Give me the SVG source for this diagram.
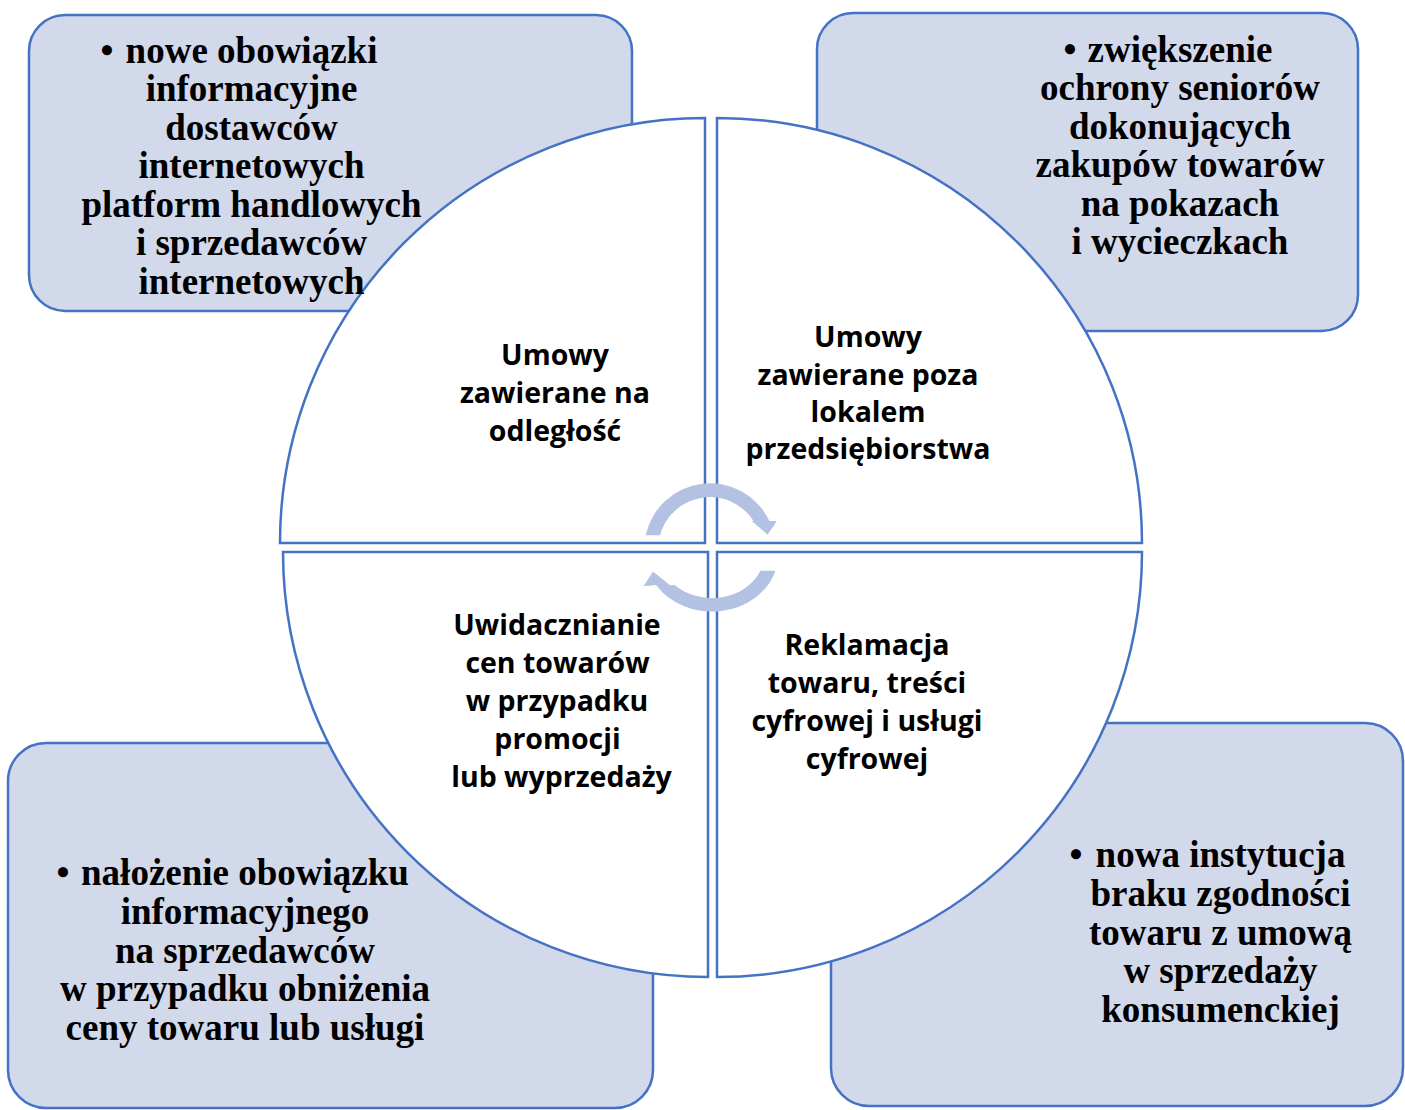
<svg xmlns="http://www.w3.org/2000/svg" width="1405" height="1110" viewBox="0 0 1405 1110">
  <style>
    .box { fill: #d2d9eb; stroke: #4472c4; stroke-width: 2.5; }
    .quad { fill: #ffffff; stroke: #4472c4; stroke-width: 2.5; }
    .serif { font-family: "Liberation Serif", "Times New Roman", serif; font-weight: bold; font-size: 37px; fill: #000; text-anchor: middle; }
    .sans { font-family: "Open Sans", "Noto Sans", sans-serif; font-weight: bold; font-size: 28.5px; fill: #000; text-anchor: middle; }
    .arrow { fill: #b3c1e3; stroke: none; }
  </style>
  <rect width="1405" height="1110" fill="#ffffff"/>

  <g id="box-top-left">
    <rect class="box" x="29" y="15" width="603" height="296" rx="36" ry="36"/>
  </g>
  <g id="box-top-right">
    <rect class="box" x="817" y="13" width="541" height="318" rx="36" ry="36"/>
  </g>
  <g id="box-bottom-left">
    <rect class="box" x="8" y="743" width="645" height="365" rx="38" ry="38"/>
  </g>
  <g id="box-bottom-right">
    <rect class="box" x="831" y="723" width="572" height="383" rx="38" ry="38"/>
  </g>

  <g id="quad-top-left">
    <path class="quad" d="M705,543 H280 A425,425 0 0 1 705,118 Z"/>
  </g>
  <g id="quad-top-right">
    <path class="quad" d="M717,543 V118 A425,425 0 0 1 1142,543 Z"/>
  </g>
  <g id="quad-bottom-left">
    <path class="quad" d="M708,552 V977 A425,425 0 0 1 283,552 Z"/>
  </g>
  <g id="quad-bottom-right">
    <path class="quad" d="M717,552 H1142 A425,425 0 0 1 717,977 Z"/>
  </g>

  <g id="box-top-left-text" class="serif">
    <text x="107" y="62.5">•</text>
    <text x="251.5" y="62.5">nowe obowiązki</text>
    <text x="251.5" y="101">informacyjne</text>
    <text x="251.5" y="139.5">dostawców</text>
    <text x="251.5" y="178">internetowych</text>
    <text x="251.5" y="216.5">platform handlowych</text>
    <text x="251.5" y="255">i sprzedawców</text>
    <text x="251.5" y="293.5">internetowych</text>
  </g>
  <g id="box-top-right-text" class="serif">
    <text x="1070" y="61.5">•</text>
    <text x="1180" y="61.5">zwiększenie</text>
    <text x="1180" y="100">ochrony seniorów</text>
    <text x="1180" y="138.5">dokonujących</text>
    <text x="1180" y="177">zakupów towarów</text>
    <text x="1180" y="215.5">na pokazach</text>
    <text x="1180" y="254">i wycieczkach</text>
  </g>
  <g id="box-bottom-left-text" class="serif">
    <text x="63" y="885">•</text>
    <text x="245" y="885">nałożenie obowiązku</text>
    <text x="245" y="923.75">informacyjnego</text>
    <text x="245" y="962.5">na sprzedawców</text>
    <text x="245" y="1001.25">w przypadku obniżenia</text>
    <text x="245" y="1040">ceny towaru lub usługi</text>
  </g>
  <g id="box-bottom-right-text" class="serif">
    <text x="1076" y="867">•</text>
    <text x="1220.5" y="867">nowa instytucja</text>
    <text x="1220.5" y="905.75">braku zgodności</text>
    <text x="1220.5" y="944.5">towaru z umową</text>
    <text x="1220.5" y="983.25">w sprzedaży</text>
    <text x="1220.5" y="1022">konsumenckiej</text>
  </g>

  <g id="quad-top-left-text" class="sans">
    <text x="555" y="365">Umowy</text>
    <text x="555" y="403">zawierane na</text>
    <text x="555" y="441">odległość</text>
  </g>
  <g id="quad-top-right-text" class="sans">
    <text x="868" y="347">Umowy</text>
    <text x="868" y="384.5">zawierane poza</text>
    <text x="868" y="422">lokalem</text>
    <text x="868" y="459">przedsiębiorstwa</text>
  </g>
  <g id="quad-bottom-left-text" class="sans">
    <text x="557" y="635">Uwidacznianie</text>
    <text x="557.5" y="673">cen towarów</text>
    <text x="557" y="711">w przypadku</text>
    <text x="557.5" y="749">promocji</text>
    <text x="561.5" y="787">lub wyprzedaży</text>
  </g>
  <g id="quad-bottom-right-text" class="sans">
    <text x="867" y="655">Reklamacja</text>
    <text x="867" y="693">towaru, treści</text>
    <text x="867" y="731">cyfrowej i usługi</text>
    <text x="867" y="769">cyfrowej</text>
  </g>

  <g id="connectors">
    <path class="arrow" d="M645.7,535.3 A65.7,65.7 0 0 1 769.4,521 L776.7,521 L767.7,534.7 L751.7,521 L753.6,521 A51.8,51.8 0 0 0 660,535.3 Z"/>
    <path class="arrow" d="M775.4,570.7 A66,56.5 0 0 1 656.1,585 L643.5,586.3 L653,571.5 L670,585.3 L674.7,585 A52,43 0 0 0 760.4,570.7 Z"/>
  </g>
</svg>
